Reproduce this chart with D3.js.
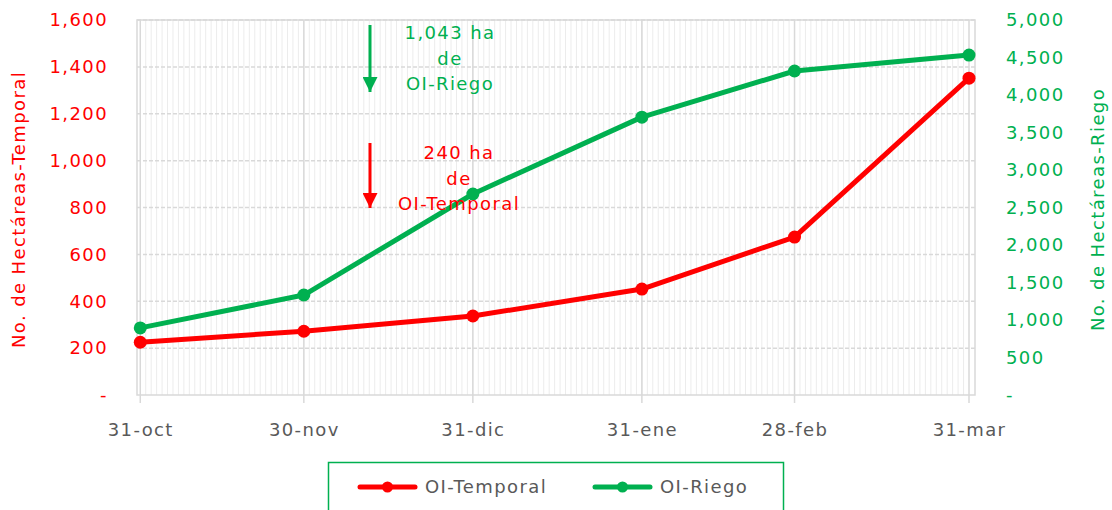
<!DOCTYPE html>
<html>
<head>
<meta charset="utf-8">
<script src="https://cdn.jsdelivr.net/npm/d3@7"></script>
<style>
  body { margin: 0; background: #fff; }
  svg { display: block; font-family: "DejaVu Sans", sans-serif; }
  svg text { letter-spacing: 1.4px; }
</style>
</head>
<body>
<div id="chart"></div>
<script>
// fechas de corte (eje X)
const dates = ["2019-10-31", "2019-11-30", "2019-12-31", "2020-01-31", "2020-02-28", "2020-03-31"];
const dateLabels = ["31-oct", "30-nov", "31-dic", "31-ene", "28-feb", "31-mar"];

// series
const temporal = [225, 272, 337, 452, 674, 1352];
const riego = [895, 1333, 2680, 3705, 4320, 4532];

const seriesNames = ["OI-Temporal", "OI-Riego"];
const leftTicks = [0, 200, 400, 600, 800, 1000, 1200, 1400, 1600];
const rightTicks = [0, 500, 1000, 1500, 2000, 2500, 3000, 3500, 4000, 4500, 5000];

const RED = "#ff0000", GREEN = "#00b050", GRID = "#d9d9d9", TXT = "#595959";

const W = 1112, H = 510;
const margin = {top: 20, right: 137, bottom: 115, left: 137};

const parse = d3.timeParse("%Y-%m-%d");
const xDates = dates.map(parse);
const DAY = 864e5;

const svg = d3.select("#chart").append("svg")
    .attr("width", W).attr("height", H);

const x = d3.scaleTime()
    .domain([new Date(+xDates[0] - 0.6 * DAY), new Date(+xDates[5] + 1.1 * DAY)])
    .range([margin.left, W - margin.right]);

const yL = d3.scaleLinear().domain([0, 1600]).range([H - margin.bottom, margin.top]);
const yR = d3.scaleLinear().domain([0, 5000]).range([H - margin.bottom, margin.top]);

const fmt = d => d === 0 ? "-" : d3.format(",")(d);

// --- grilla menor: un trazo por día ---
const days = d3.timeDay.range(d3.timeDay.offset(xDates[0], 1), xDates[5]);
svg.append("g").selectAll("line").data(days).join("line")
    .attr("x1", d => x(d)).attr("x2", d => x(d))
    .attr("y1", margin.top).attr("y2", H - margin.bottom)
    .attr("stroke", "#ececec").attr("stroke-width", 1);

// --- grilla horizontal punteada ---
svg.append("g").selectAll("line").data(leftTicks.slice(1)).join("line")
    .attr("x1", margin.left).attr("x2", W - margin.right)
    .attr("y1", d => yL(d)).attr("y2", d => yL(d))
    .attr("stroke", GRID).attr("stroke-width", 1.5).attr("stroke-dasharray", "4,2");

// --- marco del área ---
svg.append("rect")
    .attr("x", margin.left).attr("y", margin.top)
    .attr("width", W - margin.left - margin.right)
    .attr("height", H - margin.top - margin.bottom)
    .attr("fill", "none").attr("stroke", GRID).attr("stroke-width", 1.5);

// --- grilla mayor en cada fecha ---
svg.append("g").selectAll("line").data(xDates).join("line")
    .attr("x1", d => x(d)).attr("x2", d => x(d))
    .attr("y1", margin.top).attr("y2", H - margin.bottom + 8)
    .attr("stroke", GRID).attr("stroke-width", 1.5);

// eje X
const xAxis = d3.axisBottom(x).tickValues(xDates)
    .tickFormat((d, i) => dateLabels[i]).tickSize(0).tickPadding(28);
svg.append("g")
    .attr("transform", `translate(0,${H - margin.bottom})`)
    .call(xAxis)
    .call(g => g.select(".domain").remove())
    .call(g => g.selectAll("text").attr("fill", TXT).attr("font-size", 18)
        .attr("font-family", "DejaVu Sans"));

// eje izquierdo
svg.append("g")
    .attr("transform", `translate(${margin.left},0)`)
    .call(d3.axisLeft(yL).tickValues(leftTicks).tickFormat(fmt).tickSize(0).tickPadding(29))
    .call(g => g.select(".domain").remove())
    .call(g => g.selectAll("text").attr("fill", RED).attr("font-size", 18)
        .attr("font-family", "DejaVu Sans"));

// eje derecho
svg.append("g")
    .attr("transform", `translate(${W - margin.right},0)`)
    .call(d3.axisRight(yR).tickValues(rightTicks).tickFormat(fmt).tickSize(0).tickPadding(31))
    .call(g => g.select(".domain").remove())
    .call(g => g.selectAll("text").attr("fill", GREEN).attr("font-size", 18)
        .attr("font-family", "DejaVu Sans"));

// títulos de ejes
svg.append("text")
    .attr("transform", `translate(25,${(margin.top + H - margin.bottom) / 2 + 2}) rotate(-90)`)
    .attr("text-anchor", "middle").attr("fill", RED).attr("font-size", 18)
    .text("No. de Hectáreas-Temporal");
svg.append("text")
    .attr("transform", `translate(1104,${(margin.top + H - margin.bottom) / 2 + 2}) rotate(-90)`)
    .attr("text-anchor", "middle").attr("fill", GREEN).attr("font-size", 18)
    .text("No. de Hectáreas-Riego");

// --- series ---
const series = [
  {name: seriesNames[0], values: temporal, y: yL, color: RED},
  {name: seriesNames[1], values: riego, y: yR, color: GREEN}
];

series.forEach(s => {
  const pts = s.values.map((v, i) => [x(xDates[i]), s.y(v)]);
  svg.append("path")
      .attr("d", d3.line()(pts))
      .attr("fill", "none").attr("stroke", s.color)
      .attr("stroke-width", 5).attr("stroke-linejoin", "round");
  svg.append("g").selectAll("circle").data(pts).join("circle")
      .attr("cx", d => d[0]).attr("cy", d => d[1]).attr("r", 6.5)
      .attr("fill", s.color);
});

// --- anotaciones ---
svg.append("defs").selectAll("marker").data([["ah-g", GREEN], ["ah-r", RED]]).join("marker")
    .attr("id", d => d[0]).attr("viewBox", "0 0 10 10")
    .attr("refX", 10).attr("refY", 5)
    .attr("markerWidth", 5).attr("markerHeight", 5)
    .attr("markerUnits", "strokeWidth").attr("orient", "auto")
  .append("path").attr("d", "M0,0L10,5L0,10Z").attr("fill", d => d[1]);

function note(ax, y1, y2, tx, ty, lines, color, id) {
  svg.append("line")
      .attr("x1", ax).attr("x2", ax).attr("y1", y1).attr("y2", y2)
      .attr("stroke", color).attr("stroke-width", 3)
      .attr("marker-end", `url(#${id})`);
  svg.append("text")
      .attr("x", tx).attr("y", ty)
      .attr("text-anchor", "middle").attr("fill", color).attr("font-size", 18)
      .selectAll("tspan").data(lines).join("tspan")
      .attr("x", tx).attr("dy", (d, i) => i === 0 ? 0 : 25.5)
      .text(d => d);
}
note(370, 25, 92, 450, 39, ["1,043 ha", "de", "OI-Riego"], GREEN, "ah-g");
note(370, 143, 208, 459, 159, ["240 ha", "de", "OI-Temporal"], RED, "ah-r");

// --- leyenda ---
const leg = svg.append("g");
leg.append("rect")
    .attr("x", 328.5).attr("y", 462.5).attr("width", 455).attr("height", 60)
    .attr("fill", "#fff").attr("stroke", GREEN).attr("stroke-width", 1.5);
const legX = [360, 595];
series.forEach((s, i) => {
  const g = leg.append("g").attr("transform", `translate(${legX[i]},487)`);
  g.append("line").attr("x1", 0).attr("x2", 55).attr("y1", 0).attr("y2", 0)
      .attr("stroke", s.color).attr("stroke-width", 5).attr("stroke-linecap", "round");
  g.append("circle").attr("cx", 27.5).attr("cy", 0).attr("r", 5.5).attr("fill", s.color);
  g.append("text").attr("x", 65).attr("y", 0).attr("dy", "0.35em")
      .attr("fill", TXT).attr("font-size", 18).text(s.name);
});
</script>
</body>
</html>
